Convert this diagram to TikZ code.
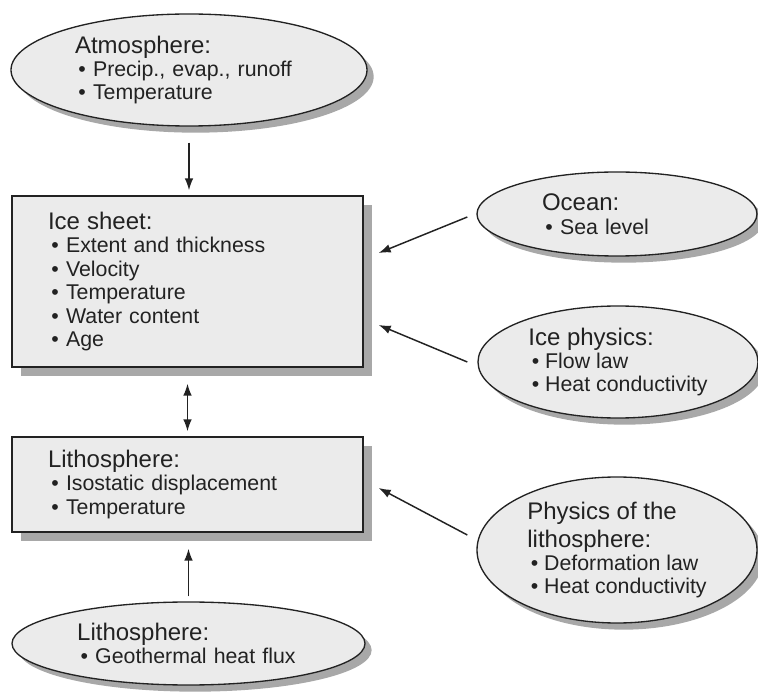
\documentclass[tikz,border=0pt]{standalone}
\usepackage{fontspec}
\setmainfont{Liberation Sans}
\usetikzlibrary{shapes.geometric,shadows,arrows.meta}
\definecolor{panelgray}{HTML}{EBEBEB}
\definecolor{shadegray}{HTML}{A8A8A8}
\definecolor{inkgray}{HTML}{222222}
\newcommand{\hd}{\fontsize{18pt}{17.6pt}\selectfont}
\newcommand{\itm}{\hspace*{2.6pt}•\ }

\begin{document}
\begin{tikzpicture}[x=0.75pt, y=-0.75pt,
    every node/.style={font=\fontsize{16pt}{17.6pt}\selectfont, text=inkgray},
    bubble/.style={ellipse, draw=inkgray, line width=1pt, fill=panelgray, inner sep=0pt, align=left,
      drop shadow={shadow xshift=5pt, shadow yshift=-5pt, fill=shadegray, opacity=1}},
    panel/.style={rectangle, draw=inkgray, line width=1pt, fill=panelgray, inner xsep=27pt, inner ysep=0pt,
      align=left, text width=209.25pt, minimum height=#1,
      drop shadow={shadow xshift=6.5pt, shadow yshift=-6.5pt, fill=shadegray, opacity=1}},
    link/.style={draw=inkgray, line width=1.1pt, -{Latex[length=9pt,width=6.5pt]}}]
    \useasboundingbox (0,0) rectangle (758,695);

    \node[bubble, minimum width=267pt, minimum height=84pt, text width=171pt] (atm) at (189,70)
        {{\hd Atmosphere:}\\ \itm Precip., evap., runoff\\ \itm Temperature};
    \node[panel=128.25pt] (ice) at (187.5,281.5)
        {{\hd Ice sheet:}\\ \itm Extent and thickness\\ \itm Velocity\\ \itm Temperature\\ \itm Water content\\ \itm Age};
    \node[panel=71.25pt] (lith) at (187.5,484.5)
        {{\hd Lithosphere:}\\ \itm Isostatic displacement\\ \itm Temperature};
    \node[bubble, minimum width=264.75pt, minimum height=62.25pt, text width=167pt] (geo) at (188.5,643.5)
        {{\hd Lithosphere:}\\ \itm Geothermal heat flux};

    \node[bubble, minimum width=210pt, minimum height=63pt, text width=112.5pt] (ocean) at (617,214)
        {{\hd Ocean:}\\ \itm Sea level};
    \node[bubble, minimum width=210pt, minimum height=84pt] (icephys) at (618,362)
        {{\hd Ice physics:}\\ \itm Flow law\\ \itm Heat conductivity};
    \node[bubble, minimum width=210pt, minimum height=109.5pt] (physlith) at (617,550)
        {{\hd Physics of the}\\[3.4pt]{\hd lithosphere:}\\ \itm Deformation law\\ \itm Heat conductivity};

    \draw[link, shorten <=12pt, shorten >=3.75pt] (atm.south) -- (atm.south |- ice.north);
    \draw[link, {Latex[length=9pt,width=6.5pt]}-{Latex[length=9pt,width=6.5pt]}, shorten <=12pt, shorten >=3.75pt] (ice.south) -- (lith.north);
    \draw[link, shorten <=3.75pt, shorten >=12pt] (geo.north) -- (geo.north |- lith.south);
    \draw[link] ([shift={(-9,3)}]ocean.west) -- ([shift={(15,-28.5)}]ice.east);
    \draw[link] ([shift={(-10,0)}]icephys.west) -- ([shift={(15,43.5)}]ice.east);
    \draw[link] ([shift={(-9,-15)}]physlith.west) -- ([shift={(15,3.5)}]lith.east);
\end{tikzpicture}
\end{document}
